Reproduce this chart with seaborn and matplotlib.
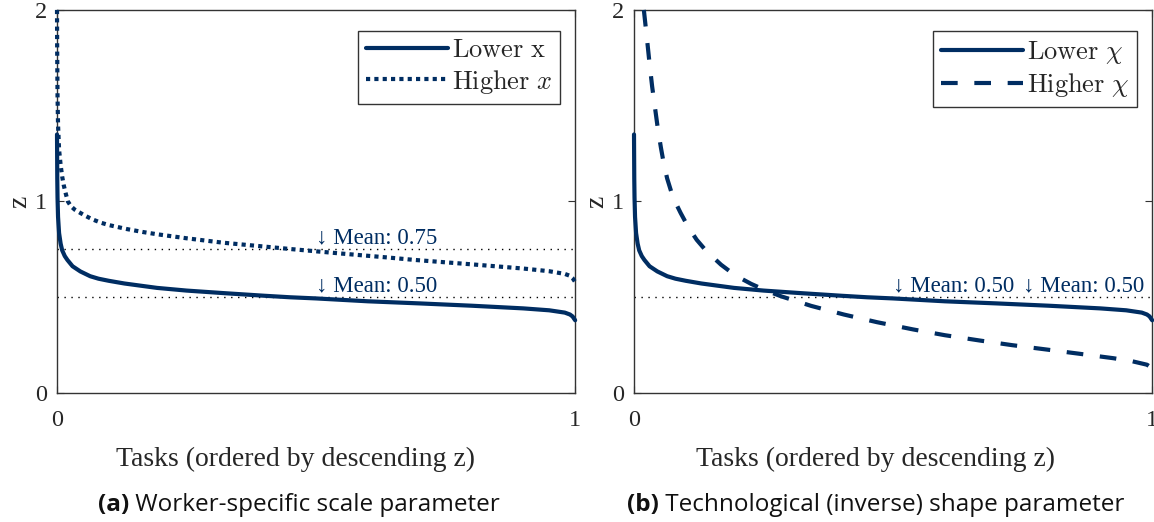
import matplotlib
matplotlib.use("Agg")
import matplotlib.pyplot as plt
from matplotlib.text import Annotation
import seaborn as sns
import pandas as pd

# ---------------- data ----------------
# Lower-parameter curve (identical in both panels)
task_lower = [0, 0.0005, 0.001, 0.002, 0.004, 0.007, 0.01, 0.015, 0.02, 0.03, 0.045,
              0.064, 0.08, 0.1, 0.13, 0.16, 0.193, 0.25, 0.32, 0.4, 0.45, 0.5, 0.6,
              0.7, 0.8, 0.9, 0.95, 0.98, 0.99, 0.995, 1.0]
z_lower = [1.35, 1.12, 1.02, 0.92, 0.835, 0.78, 0.745, 0.715, 0.695, 0.662, 0.635,
           0.61, 0.597, 0.586, 0.572, 0.561, 0.549, 0.535, 0.522, 0.508, 0.50, 0.494,
           0.479, 0.468, 0.456, 0.442, 0.432, 0.42, 0.41, 0.40, 0.38]

# Panel (a): higher x (dotted)
task_higher_x = [0, 0.0003, 0.001, 0.002, 0.004, 0.007, 0.01, 0.013, 0.017, 0.021,
                 0.027, 0.034, 0.04, 0.055, 0.068, 0.085, 0.1, 0.135, 0.165, 0.193,
                 0.25, 0.32, 0.45, 0.55, 0.637, 0.69, 0.8, 0.9, 0.95, 0.98, 0.99,
                 0.995, 1.0]
z_higher_x = [2.0, 1.8, 1.55, 1.4, 1.27, 1.19, 1.13, 1.085, 1.04, 1.0, 0.975, 0.958,
              0.948, 0.925, 0.907, 0.889, 0.877, 0.856, 0.841, 0.829, 0.808, 0.785,
              0.752, 0.728, 0.708, 0.695, 0.672, 0.65, 0.636, 0.622, 0.612, 0.6, 0.58]

# Panel (b): higher chi (dashed)
task_higher_chi = [0.019, 0.025, 0.03, 0.035, 0.04, 0.046, 0.052, 0.058, 0.064, 0.072,
                   0.08, 0.09, 0.105, 0.121, 0.14, 0.168, 0.195, 0.226, 0.255, 0.284,
                   0.342, 0.405, 0.469, 0.539, 0.6, 0.668, 0.73, 0.797, 0.86, 0.925,
                   0.96, 0.99, 1.0]
z_higher_chi = [2.0, 1.85, 1.72, 1.6, 1.5, 1.38, 1.28, 1.19, 1.12, 1.05, 0.995, 0.94,
                0.865, 0.8, 0.74, 0.67, 0.615, 0.57, 0.535, 0.505, 0.455, 0.41, 0.37,
                0.332, 0.302, 0.274, 0.25, 0.227, 0.205, 0.182, 0.167, 0.148, 0.13]

# Mean lines and their annotations
means_a = [0.75, 0.50]
mean_labels_a = ["\u2193 Mean: 0.75", "\u2193 Mean: 0.50"]
mean_label_x_a = [0.5, 0.5]
means_b = [0.50, 0.50]
mean_labels_b = ["\u2193 Mean: 0.50", "\u2193 Mean: 0.50"]
mean_label_x_b = [0.5, 0.75]

legend_a = [r"$\mathrm{Lower\ x}$", r"$\mathrm{Higher}\ x$"]
legend_b = [r"$\mathrm{Lower}\ \chi$", r"$\mathrm{Higher}\ \chi$"]

x_ticks = [0, 1]
y_ticks = [0, 1, 2]
x_label = "Tasks (ordered by descending z)"
y_label = "z"
caption_a = ("(a)", " Worker-specific scale parameter")
caption_b = ("(b)", " Technological (inverse) shape parameter")

# ---------------- style ----------------
sns.set_theme(style="white")
plt.rcParams["font.family"] = ["Liberation Serif", "DejaVu Serif"]
plt.rcParams["mathtext.fontset"] = "cm"
plt.rcParams["axes.edgecolor"] = "#333333"
plt.rcParams["axes.linewidth"] = 1.0

NAVY = "#002d62"
LW = 3.0

fig = plt.figure(figsize=(11.54, 5.22), dpi=100)
ax_a = fig.add_axes([0.0494, 0.247, 0.449, 0.734])
ax_b = fig.add_axes([0.5494, 0.247, 0.449, 0.734])

df_low = pd.DataFrame({"task": task_lower, "z": z_lower})
df_hx = pd.DataFrame({"task": task_higher_x, "z": z_higher_x})
df_hc = pd.DataFrame({"task": task_higher_chi, "z": z_higher_chi})


def setup(ax, xlab_pos):
    ax.set_xlim(0, 1)
    ax.set_ylim(0, 2)
    ax.set_xticks(x_ticks)
    ax.set_yticks(y_ticks)
    ax.tick_params(axis="both", which="both", direction="in", length=5, width=0.8,
                   top=True, right=True, bottom=True, left=True,
                   labelsize=17.5, colors="#333333", labelcolor="#262626")
    ax.tick_params(axis="x", pad=12)
    ax.tick_params(axis="y", pad=7)
    ax.set_xlabel(x_label, fontsize=20, color="#262626")
    ax.xaxis.set_label_coords(xlab_pos, -0.14)
    ax.set_ylabel(y_label, fontsize=20, color="#262626", labelpad=2)
    for s in ax.spines.values():
        s.set_visible(True)
        s.set_color("#333333")


def means(ax, vals, labels, xs):
    for v in sorted(set(vals)):
        ax.axhline(v, color="black", lw=1.0, linestyle=(0, (1, 4)), zorder=1)
    for v, lab, xx in zip(vals, labels, xs):
        ax.text(xx, v + 0.005, lab, fontsize=16.5, color=NAVY, ha="left",
                va="bottom", zorder=5)


# Panel (a)
sns.lineplot(data=df_low, x="task", y="z", ax=ax_a, color=NAVY, lw=LW,
             label=legend_a[0], clip_on=False, zorder=3, solid_capstyle="round")
sns.lineplot(data=df_hx, x="task", y="z", ax=ax_a, color=NAVY, lw=LW,
             linestyle=(0, (1, 1)), label=legend_a[1], clip_on=False, zorder=3,
             dash_capstyle="butt")
setup(ax_a, 0.461)
means(ax_a, means_a, mean_labels_a, mean_label_x_a)

# Panel (b)
sns.lineplot(data=df_low, x="task", y="z", ax=ax_b, color=NAVY, lw=LW,
             label=legend_b[0], clip_on=False, zorder=3, solid_capstyle="round")
sns.lineplot(data=df_hc, x="task", y="z", ax=ax_b, color=NAVY, lw=LW,
             linestyle=(0, (4, 4)), label=legend_b[1], clip_on=False, zorder=3,
             dash_capstyle="butt")
setup(ax_b, 0.467)
means(ax_b, means_b, mean_labels_b, mean_label_x_b)

for ax in (ax_a, ax_b):
    leg = ax.legend(loc="upper right", bbox_to_anchor=(0.971, 0.945),
                    borderaxespad=0, fontsize=19, frameon=True, fancybox=False,
                    edgecolor="#333333", framealpha=1, handlelength=3.1,
                    handletextpad=0.15, borderpad=0.3, labelspacing=0.2)
    leg.get_frame().set_linewidth(1.0)

# Captions
CAP_FONT = ["Open Sans", "DejaVu Sans"]
for (bold, rest), xpos in ((caption_a, 0.085), (caption_b, 0.5435)):
    t = fig.text(xpos, 0.022, bold, fontsize=17.5, fontweight="bold",
                 family=CAP_FONT, color="#111111", ha="left", va="baseline")
    ann = Annotation(rest, xy=(1, 0), xycoords=t, fontsize=17.5, family=CAP_FONT,
                     color="#111111", ha="left", va="bottom")
    fig.add_artist(ann)

fig.savefig("out.png", dpi=100)
